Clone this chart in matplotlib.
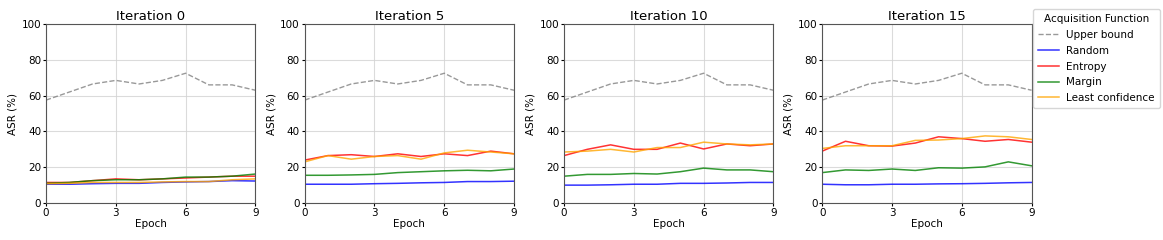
import numpy as np
import matplotlib.pyplot as plt

epochs = np.arange(10)
iterations = [0, 5, 10, 15]

upper_bound = [57.5, 62, 66.5, 68.5, 66.5, 68.5, 72.5, 66, 66, 63]

# ASR (%) per acquisition function, one row per iteration panel
random_asr = [
    [10.5, 10.5, 10.8, 11, 11, 11.5, 11.8, 12, 12.5, 12.3],
    [10.5, 10.5, 10.5, 10.8, 11, 11.3, 11.5, 12, 12, 12.2],
    [10, 10, 10.2, 10.5, 10.5, 11, 11, 11.2, 11.5, 11.5],
    [10.5, 10.2, 10.2, 10.5, 10.5, 10.7, 10.8, 11, 11.3, 11.5],
]
entropy_asr = [
    [11.5, 11.5, 12.5, 13.5, 13, 13.5, 14, 14.5, 15, 15],
    [24, 26.5, 27, 26, 27.5, 26, 27.5, 26.5, 29, 27.5],
    [26.5, 30, 32.5, 30, 30, 33.5, 30.2, 33, 32, 33],
    [29, 34.5, 32, 31.8, 33.5, 37, 36, 34.5, 35.5, 34],
]
margin_asr = [
    [11, 11.5, 12.5, 13, 13, 13.5, 14.5, 14.5, 15, 16.2],
    [15.5, 15.5, 15.7, 16, 17, 17.5, 18, 18.3, 18, 19],
    [15, 16, 16, 16.5, 16.2, 17.5, 19.5, 18.5, 18.5, 17.5],
    [17, 18.5, 18.2, 19, 18.2, 19.7, 19.5, 20.2, 23, 20.8],
]
least_conf_asr = [
    [10.8, 11, 11.5, 11.5, 11.5, 11.8, 12, 12, 13, 13.5],
    [23, 26.5, 24.5, 26, 26.5, 24.5, 28, 29.5, 28.5, 27.5],
    [28.5, 29, 30, 28.5, 31, 31, 34, 33, 32.5, 33],
    [30.5, 32, 32, 32, 35, 35.2, 36, 37.5, 37, 35.5],
]

fig = plt.figure(figsize=(11.63, 2.4), dpi=100)
lefts = [0.0396, 0.262, 0.485, 0.707]
width = 0.180

for k, it in enumerate(iterations):
    ax = fig.add_axes([lefts[k], 0.154, width, 0.746])
    ax.plot(epochs, upper_bound, linestyle="--", color="gray", alpha=0.8, linewidth=1, label="Upper bound")
    ax.plot(epochs, random_asr[k], color="blue", alpha=0.8, linewidth=1.1, label="Random")
    ax.plot(epochs, entropy_asr[k], color="red", alpha=0.8, linewidth=1.1, label="Entropy")
    ax.plot(epochs, margin_asr[k], color="green", alpha=0.8, linewidth=1.1, label="Margin")
    ax.plot(epochs, least_conf_asr[k], color="orange", alpha=0.8, linewidth=1.1, label="Least confidence")

    ax.set_xlim(0, 9)
    ax.set_ylim(0, 100)
    ax.set_xticks([0, 3, 6, 9])
    ax.set_yticks([0, 20, 40, 60, 80, 100])
    ax.grid(True, color="lightgray", alpha=0.8)
    ax.set_title(f"Iteration {it}", fontsize=9.5, pad=3)
    ax.set_xlabel("Epoch", fontsize=7.5, labelpad=1)
    ax.set_ylabel("ASR (%)", fontsize=7.5, labelpad=3)
    ax.tick_params(labelsize=7.5, length=2.5, pad=1)
    for sp in ax.spines.values():
        sp.set_color("#555555")

handles, labels = ax.get_legend_handles_labels()
leg = fig.legend(handles, labels, title="Acquisition Function", loc="upper left",
                 bbox_to_anchor=(0.888, 0.962), fontsize=7.5, title_fontsize=7.5,
                 handlelength=2.0, handletextpad=0.7, borderpad=0.5,
                 labelspacing=0.55, borderaxespad=0)

fig.savefig("out.png", dpi=100)
